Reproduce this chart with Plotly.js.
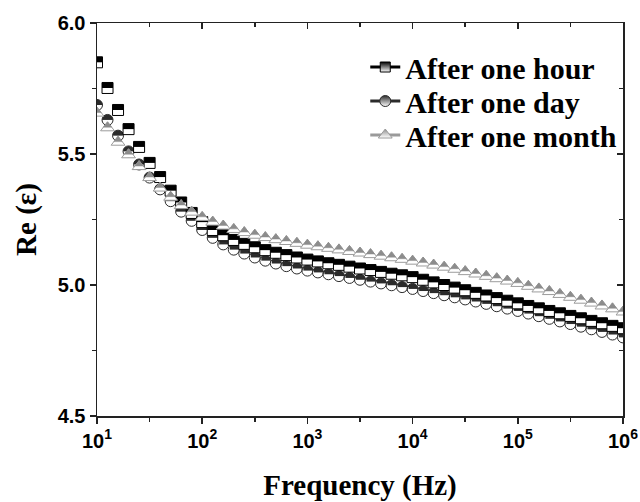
<!DOCTYPE html>
<html><head><meta charset="utf-8">
<script src="https://cdn.plot.ly/plotly-3.0.1.min.js"></script>
<style>html,body{margin:0;padding:0;background:#fff}</style>
</head><body><div id="chart" style="width:640px;height:502px"></div>
<script>
const freq = [10,12.59,15.85,19.95,25.12,31.62,39.81,50.12,63.1,79.43,
 100,125.9,158.5,199.5,251.2,316.2,398.1,501.2,631,794.3,
 1000,1259,1585,1995,2512,3162,3981,5012,6310,7943,
 10000,12590,15850,19950,25120,31620,39810,50120,63100,79430,
 100000,125900,158500,199500,251200,316200,398100,501200,631000,794300,1000000];
const afterHour = [5.850,5.752,5.668,5.595,5.527,5.466,5.412,5.360,5.315,5.275,
 5.240,5.210,5.190,5.172,5.157,5.144,5.133,5.123,5.114,5.105,
 5.097,5.090,5.083,5.077,5.070,5.063,5.057,5.050,5.043,5.037,
 5.030,5.020,5.010,5.000,4.990,4.980,4.970,4.960,4.950,4.940,
 4.930,4.920,4.911,4.901,4.892,4.882,4.873,4.863,4.854,4.844,4.835];
const afterDay = [5.687,5.630,5.570,5.510,5.460,5.410,5.365,5.320,5.280,5.245,
 5.210,5.180,5.155,5.135,5.120,5.105,5.093,5.082,5.072,5.063,
 5.055,5.048,5.041,5.034,5.027,5.020,5.013,5.006,4.999,4.992,
 4.985,4.977,4.969,4.961,4.953,4.945,4.937,4.928,4.919,4.910,
 4.901,4.891,4.881,4.871,4.861,4.851,4.841,4.831,4.821,4.811,4.800];
const afterMonth = [5.656,5.600,5.545,5.497,5.452,5.410,5.370,5.335,5.303,5.278,
 5.258,5.240,5.225,5.212,5.200,5.190,5.181,5.173,5.166,5.159,
 5.152,5.146,5.140,5.134,5.128,5.122,5.116,5.110,5.104,5.098,
 5.091,5.084,5.076,5.068,5.060,5.051,5.042,5.033,5.024,5.015,
 5.006,4.995,4.985,4.975,4.964,4.953,4.942,4.931,4.920,4.909,4.897];
const seriesNames = ['After one hour','After one day','After one month'];
const xTickVals = [10,100,1000,10000,100000,1000000];
const xTickText = ['10<sup>1</sup>','10<sup>2</sup>','10<sup>3</sup>','10<sup>4</sup>','10<sup>5</sup>','10<sup>6</sup>'];
const xMinorVals = [31.62,316.2,3162,31620,316200];
const yRange = [4.5, 6.0];

// ---- styling ----
const W = 640, H = 502, M = {l:97, r:17, t:23, b:86};
const plotH = H - M.t - M.b;
const pxu = plotH / (yRange[1]-yRange[0]);
const sqSize = 11, ciSize = 11, triSize = 12, triK = 0.6;
function shifted(px){ const d = px/pxu; return [yRange[0]-d, yRange[1]-d]; } // px>0 moves marks up
function hid(r){ return {range:r, overlaying:'y', visible:false, fixedrange:true}; }

const cSq = '#000000', cCi = '#2b2b2b', cTri = '#8c8c8c', cTriLine = '#9c9c9c';
const base = {x:freq, mode:'markers', showlegend:false, hoverinfo:'skip'};
const traces = [
 // circles: dark disc, white lower half, outline
 Object.assign({}, base, {y:afterDay, marker:{symbol:'circle', size:ciSize, color:cCi, line:{width:0}}}),
 Object.assign({}, base, {y:afterDay, yaxis:'y2',
   marker:{symbol:'line-ew', size:(ciSize+2)/1.4, color:'#ffffff', line:{color:'#ffffff', width:ciSize/2+0.5}}}),
 Object.assign({}, base, {y:afterDay, yaxis:'y3',
   marker:{symbol:'circle-open', size:ciSize, color:cCi, line:{color:cCi, width:1}}}),
 // squares: white square with outline, black top half
 Object.assign({}, base, {y:afterHour, yaxis:'y3',
   marker:{symbol:'square', size:sqSize, color:'#ffffff', line:{color:cSq, width:1}}}),
 Object.assign({}, base, {y:afterHour, yaxis:'y4',
   marker:{symbol:'line-ew', size:sqSize/1.4, color:cSq, line:{color:cSq, width:sqSize/2}}}),
 // triangles: white triangle with outline, grey top part
 Object.assign({}, base, {y:afterMonth, yaxis:'y5',
   marker:{symbol:'triangle-up', size:triSize, color:'#ffffff', line:{color:cTriLine, width:1}}}),
 Object.assign({}, base, {y:afterMonth, yaxis:'y6',
   marker:{symbol:'triangle-up', size:triSize*triK, color:cTri, line:{color:cTri, width:0.5}}})
];
const legendStyles = [
 {line:cSq, sym:'square', size:10, col:cSq},
 {line:cCi, sym:'circle', size:11, col:cCi},
 {line:'#9a9a9a', sym:'triangle-up', size:12, col:cTri}
];
const legendIds = ['legend','legend2','legend3'];
seriesNames.forEach((n,i)=>{
 const s = legendStyles[i];
 traces.push({x:[null], y:[null], xaxis:'x2', yaxis:'y7', name:n, legend:legendIds[i], mode:'lines+markers',
  line:{color:s.line, width:3}, hoverinfo:'skip',
  marker:{symbol:s.sym, size:s.size, color:s.col, gradient:{type:'vertical', color:'#ffffff'}, line:{color:s.line, width:1}}});
});

const axFont = {family:'Liberation Sans, Arial, sans-serif', size:20, color:'#000', weight:'bold'};
const titleFont = {family:'Liberation Serif, Times New Roman, serif', size:29, color:'#000', weight:'bold'};
const legFont = {family:'Liberation Serif, Times New Roman, serif', size:30, color:'#000', weight:'bold'};
const legRowsPx = [67, 101, 135];
function legendAt(py){ return {x:0.51, y:1-(py-M.t)/plotH, xanchor:'left', yanchor:'middle', bgcolor:'rgba(0,0,0,0)',
  font:legFont, itemwidth:30, borderwidth:0}; }
const tk = {tickcolor:'#222', tickwidth:1.5, showline:true, linecolor:'#222', linewidth:1.5, showgrid:false, zeroline:false};
const layout = Object.assign({
 width:W, height:H, margin:M, paper_bgcolor:'#fff', plot_bgcolor:'#fff', showlegend:true,
 legend:legendAt(legRowsPx[0]), legend2:legendAt(legRowsPx[1]), legend3:legendAt(legRowsPx[2]),
 xaxis:Object.assign({type:'log', range:[1,6], tickvals:xTickVals, ticktext:xTickText, ticks:'outside', ticklen:6,
   tickfont:axFont, minor:{tickvals:xMinorVals, ticks:'outside', ticklen:4, tickwidth:1.5, tickcolor:'#222', showgrid:false},
   title:{text:'Frequency (Hz)', font:titleFont, standoff:27}}, tk),
 yaxis:Object.assign({range:yRange, dtick:0.5, tick0:4.5, tickformat:'.1f', ticks:'outside', ticklen:6, tickfont:axFont,
   minor:{dtick:0.25, ticks:'outside', ticklen:4, tickwidth:1.5, tickcolor:'#222', showgrid:false},
   title:{text:'Re (\u03B5)', font:titleFont, standoff:12}}, tk),
 yaxis2:hid(shifted(-(ciSize/4+0.25))),
 yaxis3:hid(yRange.slice()),
 yaxis4:hid(shifted(sqSize/4)),
 yaxis5:hid(yRange.slice()),
 yaxis6:hid(shifted((triSize/2)*(1-triK))),
 xaxis2:Object.assign({type:'log', range:[1,6], overlaying:'x', side:'top', anchor:'y7', tickvals:xTickVals, showticklabels:false,
   ticks:'inside', ticklen:6, fixedrange:true,
   minor:{tickvals:xMinorVals, ticks:'inside', ticklen:4, tickwidth:1.5, tickcolor:'#222', showgrid:false}}, tk),
 yaxis7:Object.assign({range:yRange.slice(), overlaying:'y', side:'right', anchor:'x2', dtick:0.5, tick0:4.5, showticklabels:false,
   ticks:'inside', ticklen:6, fixedrange:true,
   minor:{dtick:0.25, ticks:'inside', ticklen:4, tickwidth:1.5, tickcolor:'#222', showgrid:false}}, tk)
});
Plotly.newPlot('chart', traces, layout, {staticPlot:true, displayModeBar:false});
</script></body></html>
